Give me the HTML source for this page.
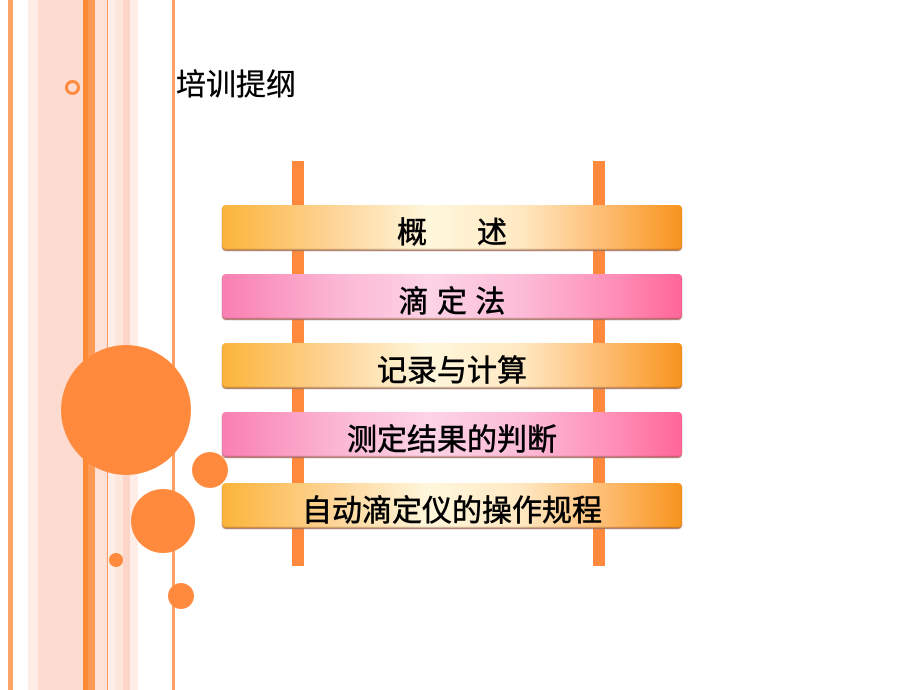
<!DOCTYPE html>
<html><head><meta charset="utf-8"><style>
body{margin:0;width:920px;height:690px;position:relative;background:#fff;overflow:hidden;font-family:"Liberation Sans","Noto Sans CJK SC",sans-serif}
.s{position:absolute;top:0;height:690px}
.c{position:absolute;border-radius:50%;background:#ff8a3d}
.p{position:absolute;width:12px;background:#ff8a3d;top:161px;height:405px}
.b{position:absolute;left:222px;width:460px;height:45px;border-radius:4px;box-shadow:0 1px 1px #a07060,inset 0 -1px 1px rgba(120,60,30,.4);text-align:center;font-size:30px;line-height:58px;color:#000;font-weight:normal;-webkit-text-stroke:0.6px #000;white-space:nowrap;overflow:visible}
.o{background:linear-gradient(90deg,#fbb43a 0%,#fdd69a 25%,#fff7dc 45%,#ffe8c2 65%,#fdb869 85%,#f7941d 100%)}
.k{background:linear-gradient(90deg,#f97fb2 0%,#fbb6d3 25%,#fdd3e6 45%,#fcbcd7 65%,#ff8fb7 85%,#ff6699 100%)}
</style></head><body>
<div class="s" style="left:8px;width:5px;background:#ffa366"></div>
<div class="s" style="left:28px;width:10px;background:#ffece6"></div>
<div class="s" style="left:38px;width:45px;background:#fddbd0"></div>
<div class="s" style="left:83px;width:5px;background:#ff8833"></div>
<div class="s" style="left:88px;width:7px;background:#ff9a55"></div>
<div class="s" style="left:95px;width:12px;background:#fde0d6"></div>
<div class="s" style="left:107px;width:1px;background:#ff9a60"></div>
<div class="s" style="left:108px;width:7px;background:#ffeee8"></div>
<div class="s" style="left:115px;width:8px;background:#fde6dc"></div>
<div class="s" style="left:123px;width:7px;background:#fdd5c8"></div>
<div class="s" style="left:130px;width:8px;background:#ffeee8"></div>
<div class="s" style="left:172px;width:3px;background:#ff9f66"></div>
<div style="position:absolute;left:65px;top:80px;width:9px;height:9px;border:3px solid #ff8a3d;border-radius:50%"></div>
<div class="c" style="left:61px;top:345px;width:130px;height:130px"></div>
<div class="c" style="left:192px;top:452px;width:36px;height:36px"></div>
<div class="c" style="left:131px;top:489px;width:64px;height:64px"></div>
<div class="c" style="left:109px;top:553px;width:14px;height:14px"></div>
<div class="c" style="left:168px;top:583px;width:26px;height:26px"></div>
<div style="position:absolute;left:176px;top:68px;font-size:30px;line-height:36px;-webkit-text-stroke:0.3px #000">培训提纲</div>
<div class="p" style="left:292px"></div>
<div class="p" style="left:593px"></div>
<div class="b o" style="top:205px">概&nbsp;&nbsp;&nbsp;&nbsp;&nbsp;&nbsp;述</div>
<div class="b k" style="top:274px">滴 定 法</div>
<div class="b o" style="top:343px">记录与计算</div>
<div class="b k" style="top:412px">测定结果的判断</div>
<div class="b o" style="top:483px">自动滴定仪的操作规程</div>
</body></html>
